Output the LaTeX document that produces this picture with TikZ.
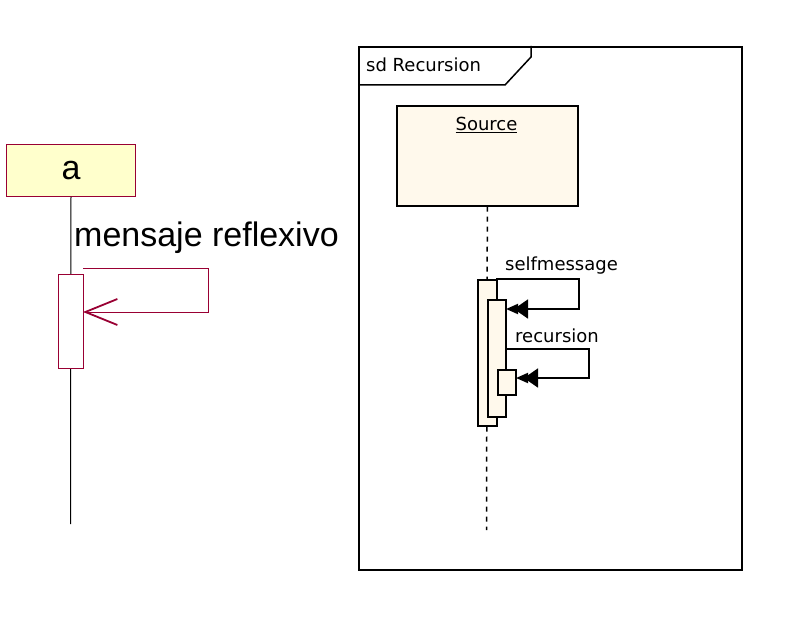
\documentclass[tikz,border=0pt]{standalone}
\usepackage{fontspec}
\setmainfont{Liberation Sans}
\newfontfamily\uifont{DejaVu Sans}
\usetikzlibrary{arrows.meta}
\definecolor{maroonline}{RGB}{153,0,51}
\definecolor{lightyellow}{RGB}{255,255,204}
\definecolor{cream}{RGB}{255,249,236}
\begin{document}
\begin{tikzpicture}[x=1pt,y=-1pt,
  lifebox/.style={draw=maroonline,line width=1pt,fill=lightyellow,inner sep=0pt,anchor=north west,
    font=\fontsize{34}{36}\selectfont},
  redact/.style={draw=maroonline,line width=1pt,fill=white,inner sep=0pt,anchor=north west},
  redmsg/.style={draw=maroonline,line width=1pt},
  bigtext/.style={font=\fontsize{34}{36}\selectfont,inner sep=0pt},
  uitext/.style={font=\uifont\fontsize{18}{20}\selectfont,inner sep=0pt},
  blkbox/.style={draw=black,line width=1.7pt,fill=cream,inner sep=0pt,anchor=north west},
  blkmsg/.style={draw=black,line width=1.8pt,
    -{Triangle[length=14pt,width=19pt,sep=-4pt]Triangle[length=12pt,width=10pt]}},
]
\useasboundingbox (0,0) rectangle (790,631);

% ---------- left diagram ----------
\node[lifebox,minimum width=129pt,minimum height=52pt] (a) at (6,144) {\raisebox{-3pt}{a}};
\coordinate (aend) at (70.5,524);
\draw[line width=1pt] (a.south) -- (aend);
\node[redact,minimum width=25pt,minimum height=94pt] (act) at (58,274) {};
\coordinate (m1) at (83,269);
\coordinate (m2) at (208,269);
\coordinate (m3) at (208,312);
\coordinate (m4) at (83,312);
\draw[redmsg,-{Straight Barb[length=32pt,width=26pt,line width=1.8pt]}] (m1) -- (m2) -- (m3) -- (m4);
\node[bigtext,anchor=base west] (lbl) at (74,247) {mensaje reflexivo};

% ---------- right diagram ----------
\node[draw=black,line width=1.7pt,minimum width=383pt,minimum height=523pt,inner sep=0pt,anchor=north west] (frame) at (358,46) {};
\coordinate (t1) at (358,85);
\coordinate (t2) at (505,85);
\coordinate (t3) at (531,57);
\coordinate (t4) at (531,46);
\draw[line width=1.5pt] (t1) -- (t2) -- (t3) -- (t4);
\node[uitext,anchor=base west] (sd) at (366,72) {sd Recursion};

\node[blkbox,minimum width=181pt,minimum height=100pt] (src) at (396,105) {};
\node[uitext,anchor=base] (srclbl) at (486.5,131) {\underline{Source}};
\coordinate (lend) at (486.5,530);
\draw[line width=1.5pt,dash pattern=on 5pt off 5pt] (src.south) -- (lend);

\node[blkbox,minimum width=19pt,minimum height=146pt] (oa) at (477,279) {};
\node[blkbox,minimum width=18pt,minimum height=117pt] (ia) at (487,299) {};
\node[blkbox,minimum width=18pt,minimum height=25pt] (sa) at (497,369) {};

\coordinate (s1) at (496,279);
\coordinate (s2) at (579,279);
\coordinate (s3) at (579,309);
\coordinate (s4) at (506,309);
\draw[blkmsg] (s1) -- (s2) -- (s3) -- (s4);
\node[uitext,anchor=base west] (selflbl) at (505,270) {selfmessage};

\coordinate (r1) at (505,349);
\coordinate (r2) at (589,349);
\coordinate (r3) at (589,378);
\coordinate (r4) at (516,378);
\draw[blkmsg] (r1) -- (r2) -- (r3) -- (r4);
\node[uitext,anchor=base west] (reclbl) at (515,342) {recursion};
\end{tikzpicture}
\end{document}
